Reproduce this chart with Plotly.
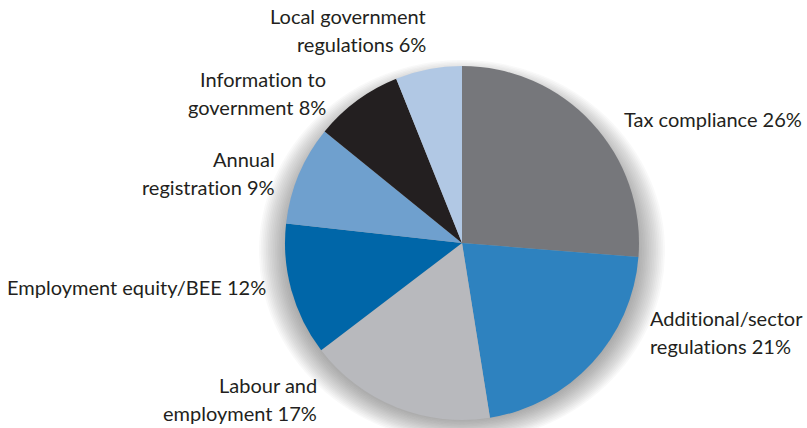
import plotly.graph_objects as go

# Share of regulatory compliance cost by category (%)
categories = [
    "Tax compliance",
    "Additional/sector<br>regulations",
    "Labour and<br>employment",
    "Employment equity/BEE",
    "Annual<br>registration",
    "Information to<br>government",
    "Local government<br>regulations",
]
shares = [26, 21, 17, 12, 9, 8, 6]
slice_colors = ["#76777b", "#2e82bf", "#b8b9bd", "#0066a8", "#6fa0ce", "#231f20", "#b1c8e4"]

# Label placement: anchor x (px), alignment side, baseline y of first line (px)
label_x = [622, 648, 319, 268, 277, 328, 428]
label_side = ["left", "left", "right", "right", "right", "right", "right"]
label_base = [128, 327, 394, 296, 168, 88, 25]

W, H = 807, 428
CX, CY, R = 462, 243, 177
FONT = "Lato"
FS = 20
LINE_GAP = 28

def px(x):
    return x / W

def py(y):
    return 1 - y / H

def no_lig(s):
    # keep "t"+"i" as separate glyphs (Lato would merge them into a ligature)
    return s.replace("ti", "t\u200ci")

fig = go.Figure()
fig.add_trace(go.Pie(
    labels=[c.replace("<br>", " ") for c in categories],
    values=shares,
    sort=False,
    direction="clockwise",
    rotation=0,
    marker=dict(colors=slice_colors, line=dict(width=0)),
    textinfo="none",
    hoverinfo="label+percent",
    showlegend=False,
    domain=dict(x=[px(CX - R), px(CX + R)], y=[py(CY + R), py(CY - R)]),
))

# soft drop shadow behind the pie: stacked translucent ellipses, shifted down
shapes = []
steps = 18
SX, SY = CX, CY + 8
for i in range(steps):
    t = i / (steps - 1)
    rx = (R + 26) + t * (R - 4 - (R + 26))
    ry = (R + 14) + t * (R - 10 - (R + 14))
    shapes.append(dict(
        type="circle", xref="paper", yref="paper", layer="below",
        x0=px(SX - rx), x1=px(SX + rx), y0=py(SY + ry), y1=py(SY - ry),
        fillcolor="rgba(70,70,70,0.032)", line=dict(width=0),
    ))

annotations = []
for name, val, x, side, base in zip(categories, shares, label_x, label_side, label_base):
    lines = f"{name} {val}%".split("<br>")
    for k, line in enumerate(lines):
        annotations.append(dict(
            text=no_lig(line), xref="paper", yref="paper",
            x=px(x), y=py(base + k * LINE_GAP - 9),
            xanchor=side, yanchor="middle", showarrow=False,
            font=dict(family=FONT, size=FS, color="#231f20"),
        ))

fig.update_layout(
    width=W, height=H,
    margin=dict(l=0, r=0, t=0, b=0),
    paper_bgcolor="white", plot_bgcolor="white",
    shapes=shapes, annotations=annotations,
)

fig.write_html("out.html")
